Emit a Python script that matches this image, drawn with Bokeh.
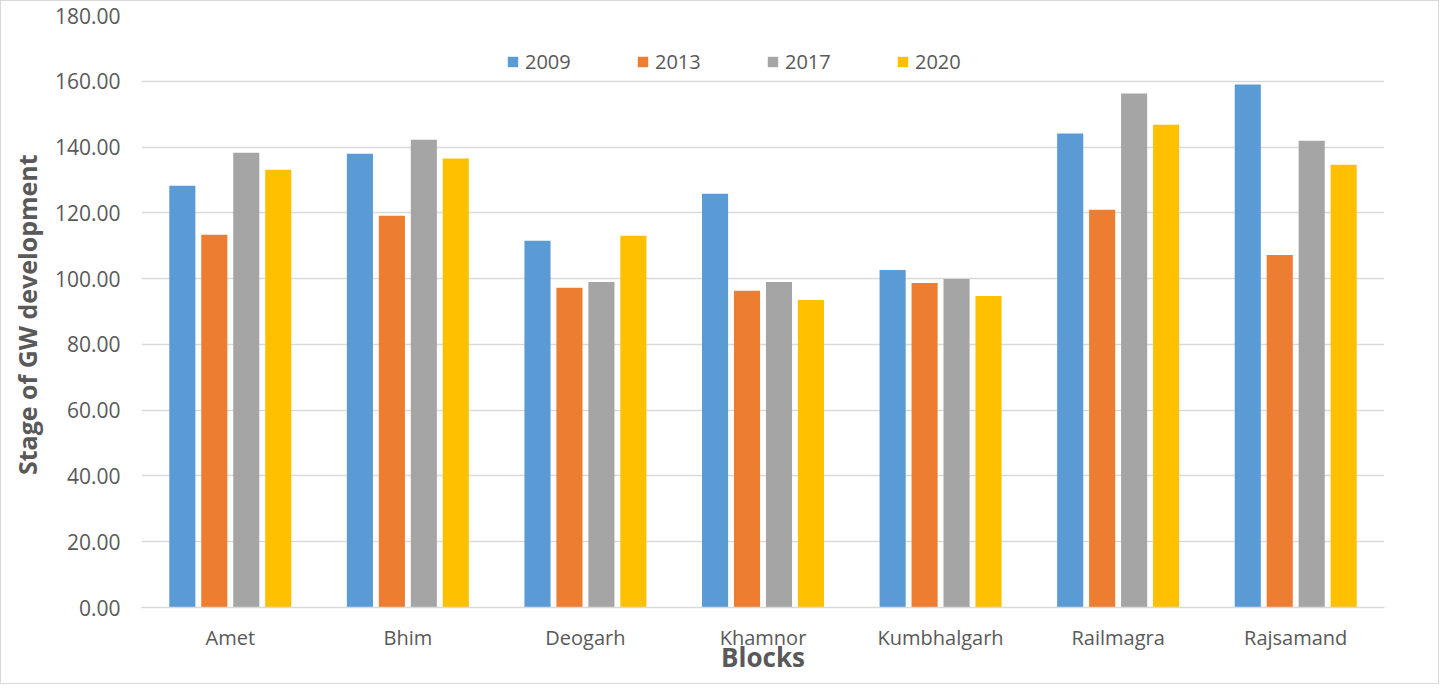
from bokeh.plotting import figure
from bokeh.models import (ColumnDataSource, FactorRange, Range1d, Legend, LegendItem,
                          FixedTicker, NumeralTickFormatter)
from bokeh.transform import dodge
from bokeh.embed import file_html
from bokeh.resources import INLINE

blocks = ["Amet", "Bhim", "Deogarh", "Khamnor", "Kumbhalgarh", "Railmagra", "Rajsamand"]
years = ["2009", "2013", "2017", "2020"]
v2009 = [128.2, 138.0, 111.5, 125.8, 102.6, 144.1, 159.0]
v2013 = [113.3, 119.1, 97.2, 96.3, 98.7, 120.9, 107.2]
v2017 = [138.3, 142.2, 99.0, 99.0, 99.9, 156.3, 141.9]
v2020 = [133.1, 136.5, 113.0, 93.5, 94.7, 146.8, 134.6]
y_ticks = [0, 20, 40, 60, 80, 100, 120, 140, 160, 180]

colors = ["#5B9BD5", "#ED7D31", "#A5A5A5", "#FFC000"]
offsets = [-0.27, -0.09, 0.09, 0.27]
TXT = "#595959"
FONT = "Open Sans"

src = ColumnDataSource(dict(block=blocks, y2009=v2009, y2013=v2013, y2017=v2017, y2020=v2020))

p = figure(x_range=FactorRange(*blocks, range_padding=0), y_range=Range1d(0, 180),
           width=1439, height=684, output_backend="svg", toolbar_location=None,
           min_border_left=140, min_border_right=56, min_border_top=14, min_border_bottom=78)
p.styles = {"border": "1px solid #d9d9d9"}
p.outline_line_color = None

items = []
for yr, col, off in zip(years, colors, offsets):
    r = p.vbar(x=dodge("block", off, range=p.x_range), top="y" + yr, width=0.147,
               source=src, fill_color=col, line_color=None)
    items.append(LegendItem(label=yr, renderers=[r]))

legend = Legend(items=items, orientation="horizontal", location=(365, 532),
                glyph_width=13, glyph_height=13, label_standoff=6, label_width=50,
                spacing=61, padding=0, margin=0, border_line_color=None,
                background_fill_alpha=0, label_text_font=FONT,
                label_text_font_size="20px", label_text_color=TXT)
p.add_layout(legend)

p.yaxis.ticker = FixedTicker(ticks=y_ticks)
p.yaxis.formatter = NumeralTickFormatter(format="0.00")
p.yaxis.axis_line_color = None
p.yaxis.major_tick_line_color = None
p.yaxis.minor_tick_line_color = None
p.yaxis.major_label_text_font = FONT
p.yaxis.major_label_text_font_size = "21px"
p.yaxis.major_label_text_color = TXT
p.yaxis.major_label_standoff = 15
p.yaxis.axis_label = "Stage of GW  development"
p.yaxis.axis_label_text_font = FONT
p.yaxis.axis_label_text_font_size = "25px"
p.yaxis.axis_label_text_font_style = "bold"
p.yaxis.axis_label_text_color = TXT
p.yaxis.axis_label_standoff = 8

p.xaxis.axis_line_color = "#d9d9d9"
p.xaxis.axis_line_width = 1.5
p.xaxis.major_tick_line_color = None
p.xaxis.minor_tick_line_color = None
p.xaxis.major_label_text_font = FONT
p.xaxis.major_label_text_font_size = "20px"
p.xaxis.major_label_text_color = TXT
p.xaxis.major_label_standoff = 10
p.xaxis.axis_label = "Blocks"
p.xaxis.axis_label_text_font = FONT
p.xaxis.axis_label_text_font_size = "26px"
p.xaxis.axis_label_text_font_style = "bold"
p.xaxis.axis_label_text_color = TXT
p.xaxis.axis_label_standoff = -15

p.xgrid.grid_line_color = None
p.ygrid.grid_line_color = "#d9d9d9"
p.ygrid.grid_line_width = 1.5

open("out.html", "w").write(file_html(p, INLINE))
